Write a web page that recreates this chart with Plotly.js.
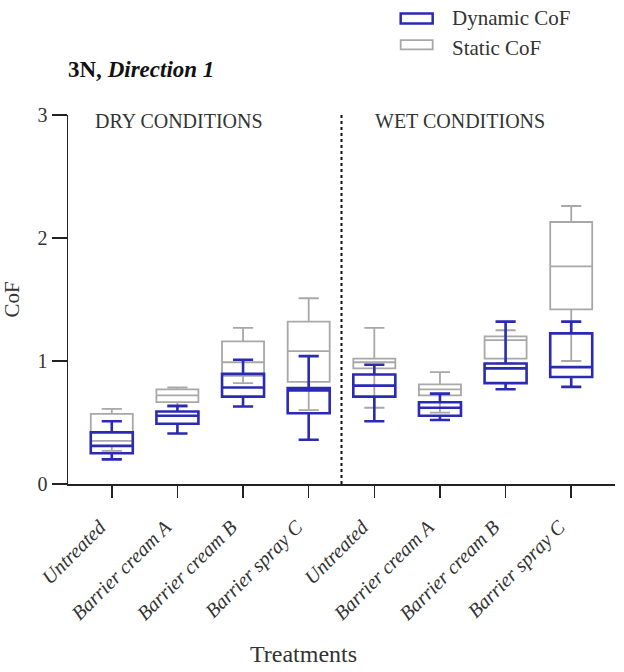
<!DOCTYPE html>
<html>
<head>
<meta charset="utf-8">
<script src="https://cdn.plot.ly/plotly-3.0.1.min.js"></script>
<style>
  html, body { margin: 0; padding: 0; background: #ffffff; }
  #chart { width: 624px; height: 672px; }
</style>
</head>
<body>
<div id="chart"></div>
<script>
// Treatments, dry conditions first, then wet conditions
const dryTreatments = ['Untreated', 'Barrier cream A', 'Barrier cream B', 'Barrier spray C'];
const wetTreatments = ['Untreated', 'Barrier cream A', 'Barrier cream B', 'Barrier spray C'];
const tickLabels = dryTreatments.concat(wetTreatments);

// Dynamic CoF box statistics (dry x4, wet x4)
const dynLower  = [0.20, 0.41, 0.63, 0.36, 0.51, 0.52, 0.77, 0.79];
const dynQ1     = [0.25, 0.49, 0.71, 0.575, 0.71, 0.555, 0.82, 0.87];
const dynMedian = [0.31, 0.555, 0.785, 0.76, 0.80, 0.62, 0.94, 0.95];
const dynQ3     = [0.42, 0.59, 0.895, 0.78, 0.89, 0.665, 0.98, 1.225];
const dynUpper  = [0.51, 0.635, 1.01, 1.04, 0.97, 0.735, 1.32, 1.32];

// Static CoF box statistics (dry x4, wet x4)
const staLower  = [0.27, 0.63, 0.82, 0.60, 0.62, 0.58, 0.98, 1.00];
const staQ1     = [0.31, 0.665, 0.88, 0.83, 0.94, 0.72, 1.02, 1.42];
const staMedian = [0.35, 0.72, 0.99, 1.08, 0.99, 0.77, 1.17, 1.77];
const staQ3     = [0.57, 0.77, 1.16, 1.32, 1.02, 0.81, 1.20, 2.13];
const staUpper  = [0.61, 0.785, 1.27, 1.51, 1.27, 0.91, 1.25, 2.26];

const positions = tickLabels.map((_, i) => i + 1);
const splitAt = dryTreatments.length + 0.5;

const BLUE = '#2a2ab4';
const GRAY = '#a8a8a8';
const SERIF = '"Liberation Serif", "Times New Roman", serif';
const TEXT = '#333333';

function boxTrace(name, color, lw, lower, q1, med, q3, upper) {
  return {
    type: 'box',
    name: name,
    x: positions,
    lowerfence: lower,
    q1: q1,
    median: med,
    q3: q3,
    upperfence: upper,
    width: 0.64,
    whiskerwidth: 0.48,
    boxpoints: false,
    line: { color: color, width: lw },
    fillcolor: 'rgba(0,0,0,0)',
    showlegend: false,
    hoverinfo: 'skip'
  };
}

const traces = [
  boxTrace('Static CoF', GRAY, 1.8, staLower, staQ1, staMedian, staQ3, staUpper),
  boxTrace('Dynamic CoF', BLUE, 2.6, dynLower, dynQ1, dynMedian, dynQ3, dynUpper)
];

const layout = {
  width: 624,
  height: 672,
  margin: { l: 68, r: 9, t: 115, b: 188 },
  paper_bgcolor: '#ffffff',
  plot_bgcolor: '#ffffff',
  boxmode: 'overlay',
  font: { family: SERIF, color: TEXT },
  xaxis: {
    range: [0.333, 8.667],
    tickmode: 'array',
    tickvals: positions,
    ticktext: tickLabels,
    tickangle: -45,
    tickfont: { family: SERIF, size: 20, color: TEXT, style: 'italic' },
    ticklabelstandoff: 10,
    ticklabelshift: -12,
    ticks: 'outside', ticklen: 12, tickwidth: 1.5, tickcolor: '#222',
    showline: true, linecolor: '#222', linewidth: 1.5,
    showgrid: false, zeroline: false, fixedrange: true
  },
  yaxis: {
    range: [0, 3],
    tickvals: [0, 1, 2, 3],
    tickfont: { family: SERIF, size: 20, color: TEXT },
    ticks: 'outside', ticklen: 15, tickwidth: 1.5, tickcolor: '#222',
    showline: true, linecolor: '#222', linewidth: 1.5,
    showgrid: false, zeroline: false, fixedrange: true,
    title: { text: 'CoF', font: { family: SERIF, size: 21, color: TEXT }, standoff: 12 }
  },
  shapes: [
    // divider between dry and wet conditions
    { type: 'line', xref: 'x', yref: 'y', x0: splitAt, x1: splitAt, y0: 0, y1: 3,
      line: { color: '#111', width: 2, dash: 'dot' } },
    // legend swatches
    { type: 'rect', xref: 'paper', yref: 'paper', x0: 0.6082, x1: 0.6667, y0: 1.2483, y1: 1.2754,
      line: { color: BLUE, width: 2.5 }, fillcolor: 'rgba(0,0,0,0)' },
    { type: 'rect', xref: 'paper', yref: 'paper', x0: 0.6082, x1: 0.6667, y0: 1.1779, y1: 1.2031,
      line: { color: GRAY, width: 1.8 }, fillcolor: 'rgba(0,0,0,0)' }
  ],
  annotations: [
    { text: '<b>3N, <i>Direction 1</i></b>', xref: 'paper', yref: 'paper', x: -0.004, y: 1.122,
      xanchor: 'left', yanchor: 'middle', showarrow: false,
      font: { family: SERIF, size: 23, color: '#111' } },
    { text: 'DRY CONDITIONS', xref: 'paper', yref: 'paper', x: 0.203, y: 0.984,
      xanchor: 'center', yanchor: 'middle', showarrow: false,
      font: { family: SERIF, size: 20, color: TEXT } },
    { text: 'WET CONDITIONS', xref: 'paper', yref: 'paper', x: 0.7166, y: 0.984,
      xanchor: 'center', yanchor: 'middle', showarrow: false,
      font: { family: SERIF, size: 20, color: TEXT } },
    { text: 'Dynamic CoF', xref: 'paper', yref: 'paper', x: 0.6984, y: 1.2627,
      xanchor: 'left', yanchor: 'middle', showarrow: false,
      font: { family: SERIF, size: 21, color: TEXT } },
    { text: 'Static CoF', xref: 'paper', yref: 'paper', x: 0.6984, y: 1.1814,
      xanchor: 'left', yanchor: 'middle', showarrow: false,
      font: { family: SERIF, size: 21, color: TEXT } },
    { text: 'Treatments', xref: 'paper', yref: 'paper', x: 0.431, y: -0.462,
      xanchor: 'center', yanchor: 'middle', showarrow: false,
      font: { family: SERIF, size: 24, color: TEXT } }
  ]
};

Plotly.newPlot('chart', traces, layout, { displayModeBar: false, staticPlot: true });
</script>
</body>
</html>
